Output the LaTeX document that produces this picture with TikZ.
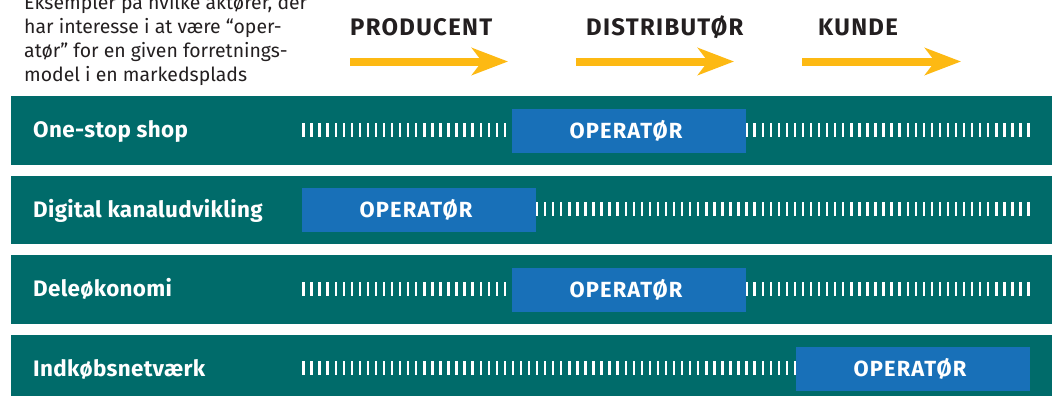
\documentclass[tikz,border=0pt]{standalone}
\usepackage{fontspec}
\setmainfont{Fira Sans}
\usetikzlibrary{arrows.meta}
\definecolor{barteal}{HTML}{006B6A}
\definecolor{opblue}{HTML}{1870B8}
\definecolor{arrowyellow}{HTML}{FDB913}
\definecolor{inkdark}{HTML}{231F20}
\tikzset{
  rowbar/.style={fill=barteal, draw=none, rectangle, minimum width=1060bp, minimum height=68.5bp, anchor=west, inner sep=0pt},
  opbox/.style={fill=opblue, draw=none, rectangle, minimum width=234bp, minimum height=44bp, inner sep=0pt, text=white, font=\bfseries\fontsize{22}{26}\selectfont\addfontfeatures{LetterSpace=5}},
  rowlabel/.style={anchor=base west, text=white, inner sep=0pt, font=\bfseries\fontsize{22.5}{26}\selectfont\addfontfeatures{LetterSpace=1.5}},
  headlabel/.style={anchor=base west, text=inkdark, inner sep=0pt, font=\bfseries\fontsize{24}{28}\selectfont\addfontfeatures{LetterSpace=5.5}},
  flowarrow/.style={draw=arrowyellow, line width=8bp, -{Stealth[length=36bp,width=27bp,inset=10bp,fill=arrowyellow]}},
  tick/.style={fill=white},
}
\begin{document}
\begin{tikzpicture}[x=1bp,y=-1bp]
\useasboundingbox (0,0) rectangle (1052,395);
\clip (0,0) rectangle (1052,395);
% intro text
\node[anchor=base west, align=left, inner sep=0pt, text=inkdark, font=\fontsize{19.5}{24}\selectfont] (intro) at (24,81)
 {Eksempler på hvilke aktører, der\\har interesse i at være “oper-\\atør” for en given forretnings-\\model i en markedsplads};
% headings
\node[headlabel] (prod) at (350,35) {PRODUCENT};
\node[headlabel] (dist) at (586,35) {DISTRIBUTØR};
\node[headlabel] (kunde) at (818,35) {KUNDE};
% arrows
\coordinate (a1s) at (350,61.5); \coordinate (a1e) at (508,61.5);
\coordinate (a2s) at (576,61.5); \coordinate (a2e) at (734,61.5);
\coordinate (a3s) at (802,61.5); \coordinate (a3e) at (961,61.5);
\draw[flowarrow] (a1s) -- (a1e);
\draw[flowarrow] (a2s) -- (a2e);
\draw[flowarrow] (a3s) -- (a3e);
% rows
\foreach \r/\lab/\bx in {0/One-stop shop/629, 1/Digital kanaludvikling/419, 2/Deleøkonomi/629, 3/Indkøbsnetværk/913}{
  \pgfmathsetmacro{\cy}{130.5+79.5*\r}
  \node[rowbar] (bar\r) at (11,\cy) {};
  \foreach \i in {0,...,90}{
    \fill[tick] ({302.3+\i*8.056},\cy-8) rectangle ++(2.4,14);
  }
  \node[opbox] (op\r) at (\bx,\cy) {\hspace*{-6bp}OPERATØR};
  \node[rowlabel] (lab\r) at (33,\cy+7) {\lab};
}
\end{tikzpicture}
\end{document}
